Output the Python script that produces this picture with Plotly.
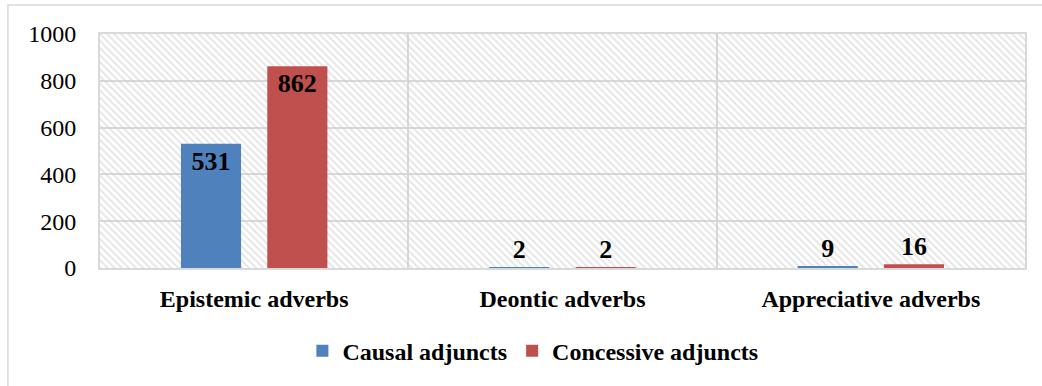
import plotly.graph_objects as go

categories = ["Epistemic adverbs", "Deontic adverbs", "Appreciative adverbs"]
causal = [531, 2, 9]
concessive = [862, 2, 16]
series_names = ["Causal adjuncts", "Concessive adjuncts"]
y_ticks = [0, 200, 400, 600, 800, 1000]

BLUE = "#4F81BD"
RED = "#C0504D"
GRID = "#d9d9d9"
FONT = "Liberation Serif"

def positions(vals):
    return ["inside" if v > 100 else "outside" for v in vals]

fig = go.Figure()

# hatched plot-area background
fig.add_trace(go.Bar(
    x=[categories[1]], y=[y_ticks[-1]], width=3, base=0,
    marker=dict(color="rgba(0,0,0,0)", line=dict(width=0),
                pattern=dict(shape="\\", fgcolor="#cccccc", size=5, solidity=0.4,
                             fillmode="overlay", bgcolor="rgba(0,0,0,0)")),
    showlegend=False, hoverinfo="skip",
))

for name, vals, color, off in [(series_names[0], causal, BLUE, -0.2375),
                               (series_names[1], concessive, RED, 0.0425)]:
    fig.add_trace(go.Bar(
        name=name, x=categories, y=vals, width=0.195, offset=off,
        marker=dict(color=color, line=dict(width=0)),
        text=[str(v) for v in vals], textposition=positions(vals),
        insidetextanchor="end",
        textfont=dict(family=FONT, size=26, color="black", weight="bold"),
        cliponaxis=False,
    ))

fig.update_layout(
    width=1042, height=386,
    margin=dict(l=100, r=17, t=34, b=118),
    barmode="overlay",
    plot_bgcolor="white", paper_bgcolor="white",
    font=dict(family=FONT, size=24, color="black"),
    legend=dict(orientation="h", x=0.468, y=-0.355, xanchor="center", yanchor="middle",
                font=dict(family=FONT, size=24, color="black", weight="bold"),
                traceorder="normal", itemwidth=30),
    shapes=[dict(type="rect", xref="paper", yref="paper",
                 x0=-0.0995, y0=-1.0, x1=1.2, y1=1.124,
                 line=dict(color=GRID, width=1.5), layer="below")],
)

fig.update_xaxes(
    type="category", categoryorder="array", categoryarray=categories,
    tickson="boundaries", showgrid=True, gridcolor=GRID, gridwidth=2,
    showline=True, mirror=True, linecolor=GRID, linewidth=2,
    ticks="", ticklabelstandoff=8,
    tickfont=dict(family=FONT, size=24, color="black", weight="bold"),
    range=[-0.5, 2.5],
)
fig.update_yaxes(
    range=[0, 1000], tickvals=y_ticks, showgrid=True, gridcolor=GRID, gridwidth=2,
    showline=True, mirror=True, linecolor=GRID, linewidth=2,
    ticks="", ticklabelstandoff=17, zeroline=False,
    tickfont=dict(family=FONT, size=24, color="black"),
)

fig.write_html("out.html", config={"displayModeBar": False},
               post_script="document.body.style.margin='0';")
